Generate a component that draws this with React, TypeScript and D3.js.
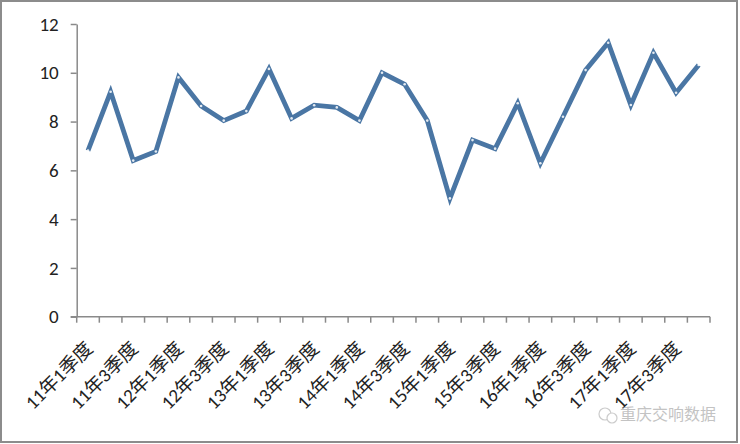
import React, { useRef, useEffect } from "react";
import * as d3 from "d3";

const years = ["11", "12", "13", "14", "15", "16", "17"];
const quarters = ["1", "2", "3", "4"];
const categories = years.flatMap((y) => quarters.map((q) => `${y}年${q}季度`));
const values = [
    6.81, 9.22, 6.4, 6.77, 9.81, 8.64, 8.04, 8.43, 10.16, 8.13, 8.67, 8.58, 8.04, 10.0,
    9.53, 8.04, 4.85, 7.24, 6.89, 8.75, 6.29, 8.2, 10.11, 11.23, 8.68, 10.82, 9.18, 10.32,
];
const yTicks = [0, 2, 4, 6, 8, 10, 12];
const watermark = "重庆交响数据";

const W = 740;
const H = 444;

const App: React.FC = () => {
    const svgRef = useRef<SVGSVGElement | null>(null);

    useEffect(() => {
        if (!svgRef.current) return;
        const svg = d3.select(svgRef.current);
        svg.selectAll("*").remove();

        const margin = { top: 24, right: 30, bottom: 127.3, left: 76.7 };
        const font = "Carlito, 'Open Sans', 'Noto Sans CJK SC', sans-serif";

        // frame around the picture
        svg.append("rect")
            .attr("x", 1)
            .attr("y", 1)
            .attr("width", W - 4)
            .attr("height", H - 3)
            .attr("fill", "#fff")
            .attr("stroke", "#8c8c8c")
            .attr("stroke-width", 2);

        const x = d3
            .scaleBand()
            .domain(categories)
            .range([margin.left, 710]);
        const y = d3
            .scaleLinear()
            .domain([0, 12])
            .range([H - margin.bottom, margin.top]);

        // y axis
        const yAxis = svg
            .append("g")
            .attr("transform", `translate(${margin.left},0)`)
            .call(d3.axisLeft(y).tickValues(yTicks).tickSize(6).tickPadding(12).tickSizeOuter(0));
        yAxis.select(".domain").attr("stroke", "#8a8a8a").attr("stroke-width", 1.5);
        yAxis.selectAll(".tick line").attr("stroke", "#8a8a8a").attr("stroke-width", 1.5);
        yAxis.selectAll(".tick text")
            .attr("fill", "#222")
            .style("font-family", font)
            .style("font-size", "19px");

        // x axis, ticks on the category boundaries
        const xAxis = svg
            .append("g")
            .attr("transform", `translate(0,${y(0)})`);
        xAxis.append("line")
            .attr("x1", margin.left - 6)
            .attr("x2", 710)
            .attr("stroke", "#8a8a8a")
            .attr("stroke-width", 1.5);
        const bounds = categories.map((c) => x(c) || 0).concat([710]);
        xAxis.selectAll(".xt")
            .data(bounds)
            .enter()
            .append("line")
            .attr("x1", (d) => d)
            .attr("x2", (d) => d)
            .attr("y1", 0)
            .attr("y2", 6)
            .attr("stroke", "#8a8a8a")
            .attr("stroke-width", 1.5);
        xAxis.selectAll(".xl")
            .data(categories.filter((_, i) => i % 2 === 0))
            .enter()
            .append("text")
            .attr(
                "transform",
                (d) => `translate(${(x(d) || 0) + x.bandwidth() / 2 + 6},${33}) rotate(-45)`
            )
            .attr("text-anchor", "end")
            .attr("fill", "#222")
            .style("font-family", font)
            .style("font-size", "19px")
            .text((d) => d);

        // line
        const line = d3
            .line<number>()
            .x((_, i) => (x(categories[i]) || 0) + x.bandwidth() / 2)
            .y((d) => y(d));
        svg.append("path")
            .datum(values)
            .attr("d", line)
            .attr("fill", "none")
            .attr("stroke", "#4a76a4")
            .attr("stroke-width", 4.8)
            .attr("stroke-linejoin", "miter");
        svg.selectAll(".dot")
            .data(values)
            .enter()
            .append("circle")
            .attr("cx", (_, i) => (x(categories[i]) || 0) + x.bandwidth() / 2)
            .attr("cy", (d) => y(d))
            .attr("r", 1.3)
            .attr("fill", "#fff")
            .attr("opacity", 0.85);

        // watermark
        const wm = svg.append("g").attr("transform", "translate(584,420)").attr("opacity", 0.5);
        wm.append("circle")
            .attr("cx", 21)
            .attr("cy", -6)
            .attr("r", 6)
            .attr("fill", "none")
            .attr("stroke", "#999")
            .attr("stroke-width", 1.2);
        wm.append("circle")
            .attr("cx", 28)
            .attr("cy", -2)
            .attr("r", 5)
            .attr("fill", "#fff")
            .attr("stroke", "#999")
            .attr("stroke-width", 1.2);
        wm.append("text")
            .attr("x", 36)
            .attr("y", 0)
            .attr("fill", "#888")
            .style("font-family", "'Noto Sans CJK SC', sans-serif")
            .style("font-size", "16px")
            .text(watermark);
    }, []);

    return (
        <div style={{ position: "fixed", left: 0, top: 0 }}>
            <svg ref={svgRef} width={W} height={H} style={{ display: "block" }}></svg>
        </div>
    );
};

export default App;
